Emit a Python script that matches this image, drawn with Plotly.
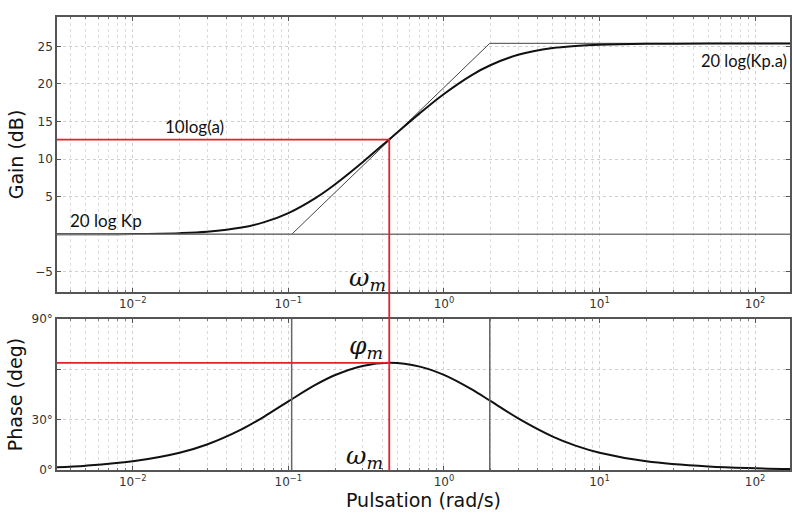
import math
import plotly.graph_objects as go
from plotly.subplots import make_subplots

# ---- data ----
freq = [0.003, 0.005, 0.01, 0.02, 0.03, 0.05, 0.07, 0.1, 0.15, 0.2, 0.3, 0.45,
        0.7, 1, 1.5, 2, 3, 5, 7, 10, 20, 50, 100, 200]
gain_db = [0.0, 0.01, 0.04, 0.16, 0.35, 0.90, 1.62, 2.83, 4.86, 6.67, 9.59, 12.72,
           16.12, 18.67, 21.15, 22.52, 23.87, 24.77, 25.05, 25.21, 25.33, 25.36, 25.37, 25.37]
phase_deg = [1.56, 2.60, 5.19, 10.30, 15.20, 24.20, 31.86, 40.91, 50.83, 56.61, 62.05, 63.86,
             61.62, 56.67, 48.18, 41.00, 30.76, 19.91, 14.56, 10.32, 5.21, 2.09, 1.05, 0.52]

asym_freq = [0.003, 0.105, 1.97, 200]
asym_gain = [0.0, 0.0, 25.4, 25.4]

corner_low = 0.105
corner_high = 1.97
omega_m = 0.445
gain_at_wm = 12.6
phi_m = 63.9

x_range = [-2.487, 2.224]
gain_range = [-7.67, 28.9]
phase_range = [0, 90]

major_x = [0.01, 0.1, 1, 10, 100]
major_x_text = ["10<sup>−2</sup>", "10<sup>−1</sup>", "10<sup>0</sup>", "10<sup>1</sup>", "10<sup>2</sup>"]
gain_ticks = [-5, 0, 5, 10, 15, 20, 25]
gain_tick_text = ["−5", "", "5", "10", "15", "20", "25"]
phase_ticks = [0, 30, 60, 90]
phase_tick_text = ["0°", "30°", "", "90°"]
minor_x = [m * 10.0 ** e for e in range(-3, 3) for m in range(2, 10)]

# ---- figure ----
top_dom = [0.3929, 1.0]
bot_dom = [0.0, 0.3333]

fig = make_subplots(rows=2, cols=1, shared_xaxes=False, vertical_spacing=0.06)
fig.update_layout(
    width=792, height=515,
    margin=dict(l=57, r=0, t=17, b=45),
    paper_bgcolor="white", plot_bgcolor="white",
    showlegend=False,
    font=dict(family="DejaVu Sans", color="#333333"),
)

curve_col = "#111111"
fig.add_trace(go.Scatter(x=asym_freq, y=asym_gain, mode="lines",
                         line=dict(color="#444444", width=1)), row=1, col=1)
fig.add_trace(go.Scatter(x=freq, y=gain_db, mode="lines", line_shape="spline",
                         line=dict(color=curve_col, width=2)), row=1, col=1)
fig.add_trace(go.Scatter(x=freq, y=phase_deg, mode="lines", line_shape="spline",
                         line=dict(color=curve_col, width=2)), row=2, col=1)

axis_common = dict(
    type="log", range=x_range, tickvals=major_x, ticktext=major_x_text,
    showline=True, linecolor="#555555", linewidth=1.5, mirror="ticks",
    ticks="inside", ticklen=4, tickcolor="#555555",
    showgrid=True, gridcolor="#cfcfcf", griddash="dot", gridwidth=1,
    tickfont=dict(size=12, color="#333333", family="DejaVu Sans"),
    minor=dict(tickvals=minor_x, showgrid=True, gridcolor="#dddddd",
               griddash="dot", ticks="inside", ticklen=2, tickcolor="#777777"),
    zeroline=False,
)
fig.update_xaxes(**axis_common)
fig.update_xaxes(domain=[0, 1], row=1, col=1)
fig.update_xaxes(domain=[0, 1], row=2, col=1,
                 title=dict(text="Pulsation (rad/s)", font=dict(size=19, family="DejaVu Sans", color="#111111"),
                            standoff=2))

yax_common = dict(
    showline=True, linecolor="#555555", linewidth=1.5, mirror="ticks",
    ticks="inside", ticklen=4, tickcolor="#555555",
    showgrid=True, gridcolor="#cfcfcf", griddash="dot", gridwidth=1,
    tickfont=dict(size=12, color="#333333", family="DejaVu Sans"),
    zeroline=False,
)
fig.update_yaxes(**yax_common)
fig.update_yaxes(row=1, col=1, domain=top_dom, range=gain_range,
                 tickvals=gain_ticks, ticktext=gain_tick_text,
                 title=dict(text="Gain (dB)", font=dict(size=19, family="DejaVu Sans", color="#111111"),
                            standoff=6))
fig.update_yaxes(row=2, col=1, domain=bot_dom, range=phase_range,
                 tickvals=phase_ticks, ticktext=phase_tick_text,
                 title=dict(text="Phase (deg)", font=dict(size=19, family="DejaVu Sans", color="#111111"),
                            standoff=4))

# 0 dB reference line
fig.add_shape(type="line", xref="x domain", yref="y", x0=0, x1=1, y0=0, y1=0,
              line=dict(color="#777777", width=1.5))
# corner lines in phase plot
for c in (corner_low, corner_high):
    fig.add_shape(type="line", xref="x2", yref="y2 domain", x0=c, x1=c, y0=0, y1=1,
                  line=dict(color="#666666", width=1.5))

red = "#e8202a"
# horizontal red lines
fig.add_shape(type="line", xref="x", yref="y", x0=10 ** x_range[0], x1=omega_m,
              y0=gain_at_wm, y1=gain_at_wm, line=dict(color=red, width=1.8))
fig.add_shape(type="line", xref="x2", yref="y2", x0=10 ** x_range[0], x1=omega_m,
              y0=phi_m, y1=phi_m, line=dict(color=red, width=1.8))
# vertical red line crossing both plots
def gain_to_paper(v):
    return top_dom[0] + (v - gain_range[0]) / (gain_range[1] - gain_range[0]) * (top_dom[1] - top_dom[0])

fig.add_shape(type="line", xref="x", yref="paper", x0=omega_m, x1=omega_m,
              y0=bot_dom[0], y1=gain_to_paper(gain_at_wm), line=dict(color=red, width=1.8))

label_font = dict(family="Lato", size=17, color="#111111")
math_font = dict(family="DejaVu Serif", size=25, color="#111111")
fig.add_annotation(xref="x", yref="y", x=math.log10(0.0249), y=14.3, text="10log(a)",
                   showarrow=False, font=label_font)
fig.add_annotation(xref="x", yref="y", x=math.log10(0.0067), y=1.8, text="20 log Kp",
                   showarrow=False, font=label_font)
fig.add_annotation(xref="paper", yref="y", x=0.998, y=23.0, text="20 log(Kp.a)",
                   showarrow=False, font=dict(family="Lato", size=16.5, color="#111111"),
                   xanchor="right")
fig.add_annotation(xref="x", yref="y", x=math.log10(omega_m) - 0.01, y=-5.9,
                   text="<i>ω<sub>m</sub></i>", showarrow=False, font=math_font, xanchor="right")
fig.add_annotation(xref="x2", yref="y2", x=math.log10(omega_m) - 0.03, y=73.5,
                   text="<i>φ<sub>m</sub></i>", showarrow=False, font=math_font, xanchor="right")
fig.add_annotation(xref="x2", yref="y2", x=math.log10(omega_m) - 0.03, y=7.5,
                   text="<i>ω<sub>m</sub></i>", showarrow=False, font=math_font, xanchor="right")

fig.write_html("out.html", config={"displayModeBar": False},
               post_script="document.body.style.margin='0';document.body.style.overflow='hidden';")
